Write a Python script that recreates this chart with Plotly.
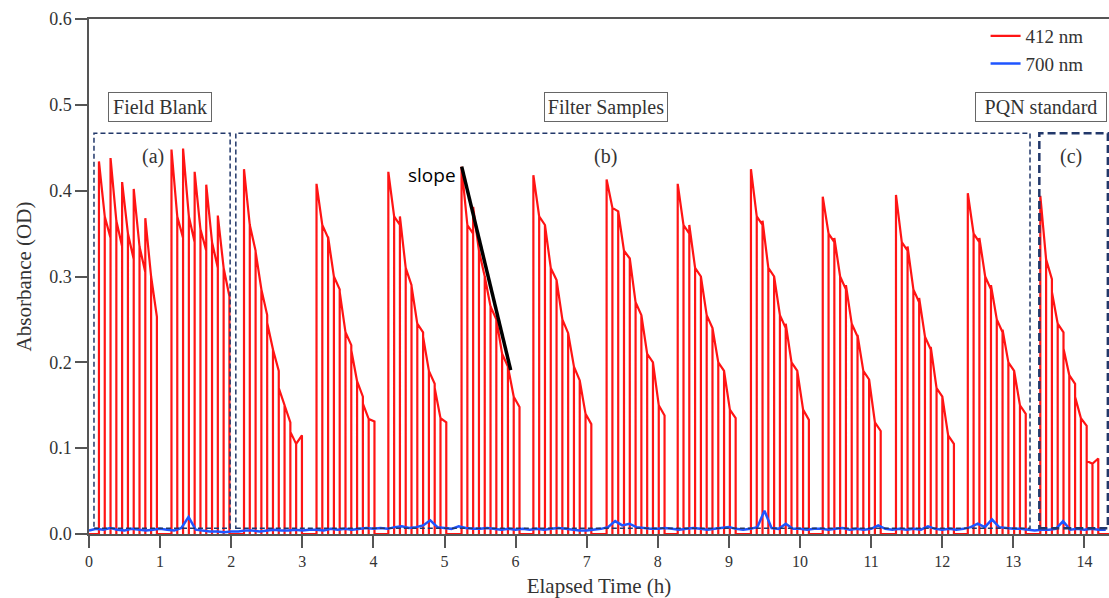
import numpy as np
import plotly.graph_objects as go

# ---------------- data ----------------
# start time (h) of every measurement cycle
cycle_starts = [0.14, 1.16, 2.18, 3.20, 4.21, 5.24, 6.25, 7.28, 8.28, 9.31, 10.32, 11.35, 12.36, 13.38]
# duration (h) of one filter spot ("tooth")
tooth_hours = 0.163
# number of zero-check dips within a tooth for each cycle
cycle_subs = [2, 2, 2, 2, 2, 2, 2, 2, 2, 2, 2, 2, 2, 2]

# 412 nm absorbance: for each tooth, [peak, value at mid dip, end]
field_blank_1 = [[0.434, 0.370, 0.345], [0.438, 0.365, 0.335], [0.410, 0.350, 0.320],
                 [0.402, 0.335, 0.305], [0.368, 0.300, 0.253]]
field_blank_2 = [[0.448, 0.370, 0.345], [0.449, 0.370, 0.340], [0.422, 0.355, 0.330],
                 [0.407, 0.340, 0.310], [0.371, 0.310, 0.277]]
filter_1 = [[0.425, 0.360, 0.330], [0.329, 0.285, 0.255], [0.246, 0.215, 0.190], [0.170, 0.150, 0.130], [0.119, 0.105, 0.115]]
filter_2 = [[0.408, 0.360, 0.345], [0.346, 0.300, 0.285], [0.282, 0.235, 0.220], [0.214, 0.178, 0.160], [0.152, 0.134, 0.131]]
filter_3 = [[0.422, 0.370, 0.360], [0.370, 0.310, 0.290], [0.289, 0.245, 0.235], [0.230, 0.190, 0.175], [0.170, 0.135, 0.130]]
filter_4 = [[0.428, 0.360, 0.350], [0.381, 0.330, 0.300], [0.300, 0.265, 0.250], [0.250, 0.210, 0.195], [0.195, 0.160, 0.148]]
filter_5 = [[0.418, 0.370, 0.360], [0.360, 0.310, 0.296], [0.296, 0.250, 0.234], [0.234, 0.195, 0.179], [0.179, 0.140, 0.128]]
filter_6 = [[0.413, 0.380, 0.376], [0.376, 0.330, 0.321], [0.321, 0.270, 0.255], [0.255, 0.210, 0.200], [0.200, 0.150, 0.138]]
filter_7 = [[0.408, 0.360, 0.350], [0.360, 0.310, 0.300], [0.300, 0.255, 0.240], [0.240, 0.200, 0.190], [0.190, 0.145, 0.135]]
filter_8 = [[0.425, 0.370, 0.360], [0.365, 0.310, 0.300], [0.300, 0.255, 0.240], [0.245, 0.200, 0.190], [0.190, 0.145, 0.133]]
filter_9 = [[0.393, 0.350, 0.340], [0.345, 0.300, 0.285], [0.290, 0.245, 0.230], [0.232, 0.190, 0.180], [0.180, 0.130, 0.120]]
filter_10 = [[0.395, 0.340, 0.330], [0.335, 0.285, 0.270], [0.275, 0.230, 0.215], [0.218, 0.170, 0.160], [0.160, 0.115, 0.105]]
filter_11 = [[0.397, 0.350, 0.340], [0.345, 0.300, 0.285], [0.290, 0.250, 0.235], [0.238, 0.200, 0.190], [0.190, 0.150, 0.140]]
pqn_standard = [[0.394, 0.320, 0.297], [0.282, 0.245, 0.235], [0.216, 0.185, 0.175], [0.160, 0.135, 0.126], [0.085, 0.082, 0.088]]
cycles = [field_blank_1, field_blank_2, filter_1, filter_2, filter_3, filter_4, filter_5, filter_6,
          filter_7, filter_8, filter_9, filter_10, filter_11, pqn_standard]

# 700 nm absorbance sampled every 0.1 h from 0 to 14.3 h
blue_step = 0.1
blue_values = [
    0.004, 0.006, 0.005, 0.007, 0.005, 0.004, 0.006, 0.005, 0.004, 0.005,
    0.006, 0.005, 0.004, 0.007, 0.020, 0.005, 0.004, 0.003, 0.003, 0.002,
    0.003, 0.003, 0.004, 0.004, 0.003, 0.004, 0.005, 0.004, 0.004, 0.005,
    0.004, 0.005, 0.005, 0.004, 0.006, 0.005, 0.006, 0.005, 0.006, 0.007,
    0.006, 0.007, 0.006, 0.008, 0.009, 0.007, 0.008, 0.010, 0.016, 0.008,
    0.007, 0.006, 0.009, 0.007, 0.006, 0.006, 0.007, 0.006, 0.005, 0.006,
    0.005, 0.006, 0.005, 0.006, 0.005, 0.006, 0.007, 0.006, 0.005, 0.004,
    0.004, 0.005, 0.006, 0.008, 0.015, 0.010, 0.012, 0.008, 0.007, 0.006,
    0.006, 0.007, 0.006, 0.005, 0.006, 0.007, 0.006, 0.005, 0.006, 0.007,
    0.008, 0.006, 0.005, 0.006, 0.008, 0.027, 0.007, 0.006, 0.012, 0.006,
    0.006, 0.005, 0.006, 0.006, 0.005, 0.006, 0.007, 0.005, 0.006, 0.005,
    0.006, 0.010, 0.006, 0.005, 0.006, 0.005, 0.006, 0.005, 0.009, 0.006,
    0.005, 0.006, 0.005, 0.006, 0.008, 0.012, 0.008, 0.017, 0.008, 0.007,
    0.006, 0.006, 0.005, 0.004, 0.005, 0.005, 0.006, 0.015, 0.005, 0.006,
    0.005, 0.006, 0.005, 0.005,
]

x_ticks = list(range(0, 15))
y_ticks = [0.0, 0.1, 0.2, 0.3, 0.4, 0.5, 0.6]

# ---------------- build the 412 nm trace ----------------
red_x, red_y = [0.0], [0.0]
for start, teeth, nsub in zip(cycle_starts, cycles, cycle_subs):
    t = start
    red_x.append(t); red_y.append(0.0)
    step = tooth_hours / nsub
    for tooth in teeth:
        red_x.append(t); red_y.append(tooth[0])
        for k in range(1, nsub + 1):
            tk = t + k * step
            red_x.append(tk); red_y.append(tooth[k])
            red_x.append(tk); red_y.append(0.0)
            if k < nsub:
                red_x.append(tk); red_y.append(tooth[k])
        t += tooth_hours
red_x.append(14.4); red_y.append(0.0)

blue_x = [round(i * blue_step, 2) for i in range(len(blue_values))]

SERIF = "Liberation Serif"
NAVY = "#22386a"

fig = go.Figure()
fig.add_trace(go.Scatter(x=red_x, y=red_y, mode="lines", name="412 nm",
                         line=dict(color="#ff1414", width=2.2)))
fig.add_trace(go.Scatter(x=blue_x, y=blue_values, mode="lines", name="700 nm",
                         line=dict(color="#1f55ff", width=2.5)))

# dashed region boxes
boxes = [(0.07, 1.985, "5px,3px", 1.5), (2.065, 13.235, "5px,3px", 1.5), (13.366, 14.33, "8px,4px", 2.5)]
for x0, x1, dash, w in boxes:
    fig.add_shape(type="rect", x0=x0, x1=x1, y0=0.0066, y1=0.467, xref="x", yref="y",
                  line=dict(color=NAVY, width=w, dash=dash), layer="above")

# slope line
fig.add_shape(type="line", x0=5.242, y0=0.428, x1=5.931, y1=0.191, xref="x", yref="y",
              line=dict(color="black", width=3.5), layer="above")
fig.add_annotation(x=5.19, y=0.418, text="slope", showarrow=False, xanchor="right",
                   font=dict(family="Open Sans", size=19, color="black"))

for xx, lab in [(0.9, "(a)"), (7.26, "(b)"), (13.81, "(c)")]:
    fig.add_annotation(x=xx, y=0.44, text=lab, showarrow=False,
                       font=dict(family=SERIF, size=20, color="#333"))

for xx, lab, w in [(1.0, "Field Blank", 96), (7.27, "Filter Samples", 116), (13.39, "PQN standard", 124)]:
    fig.add_annotation(x=xx, y=0.498, text=lab, showarrow=False, width=w, height=22,
                       bordercolor="#666", borderwidth=1, borderpad=3, bgcolor="white",
                       font=dict(family=SERIF, size=20, color="#333"))

fig.update_layout(
    width=1109, height=598,
    margin=dict(l=89, r=0, t=19, b=64),
    paper_bgcolor="white", plot_bgcolor="white",
    showlegend=True,
    legend=dict(x=0.879, y=1.004, xanchor="left", yanchor="top", bgcolor="rgba(0,0,0,0)",
                font=dict(family=SERIF, size=19, color="#333"), tracegroupgap=0),
    font=dict(family=SERIF, color="#333"),
)
fig.update_xaxes(range=[0, 14.346], tickvals=x_ticks, ticktext=[str(v) for v in x_ticks],
                 ticks="outside", ticklen=12, tickwidth=1.5, tickcolor="#555",
                 showline=True, linecolor="#555", linewidth=1.5, mirror=True,
                 showgrid=False, zeroline=False, tickfont=dict(family=SERIF, size=16, color="#333"),
                 title=dict(text="Elapsed Time (h)", font=dict(family=SERIF, size=21, color="#333"), standoff=9))
fig.update_yaxes(range=[0, 0.6], tickvals=y_ticks, ticktext=[f"{v:.1f}" for v in y_ticks],
                 ticks="outside", ticklen=12, tickwidth=1.5, tickcolor="#555",
                 showline=True, linecolor="#555", linewidth=1.5,
                 showgrid=False, zeroline=False, tickfont=dict(family=SERIF, size=18, color="#333"),
                 title=dict(text="Absorbance (OD)", font=dict(family=SERIF, size=21, color="#333"), standoff=12))

fig.write_html("out.html")
